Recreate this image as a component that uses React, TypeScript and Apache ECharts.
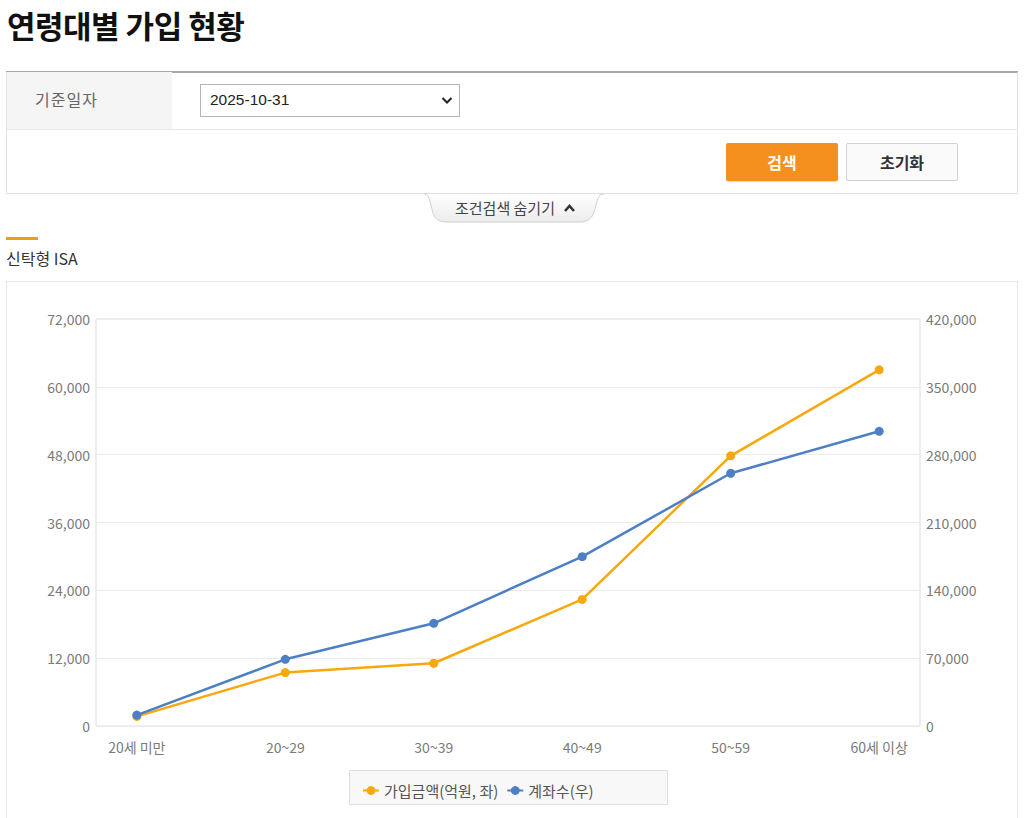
import React, { useEffect, useRef } from "react";
import * as echarts from "echarts";

const categories = ["20세 미만", "20~29", "30~39", "40~49", "50~59", "60세 이상"];
const amountValues = [1700, 9450, 11100, 22400, 47800, 63000];
const accountValues = [11300, 68800, 106000, 174700, 260800, 304100];
const leftTicks = { min: 0, max: 72000, interval: 12000 };
const rightTicks = { min: 0, max: 420000, interval: 70000 };
const seriesNames = ["가입금액(억원, 좌)", "계좌수(우)"];

const FONT = '"Noto Sans CJK KR", "Noto Sans", sans-serif';

function Chart() {
  const ref = useRef<HTMLDivElement>(null);
  useEffect(() => {
    if (!ref.current) return;
    const chart = echarts.init(ref.current, undefined, { renderer: "svg" });
    const idx = categories.map((_, i) => i);
    const labelStyle = { color: "#7a7a7a", fontSize: 14, fontFamily: FONT };
    chart.setOption({
      animation: false,
      textStyle: { fontFamily: FONT },
      grid: {
        left: 90,
        right: 100,
        top: 38,
        bottom: 92,
        show: true,
        borderColor: "#dcdcdc",
        borderWidth: 1,
      },
      graphic: [
        {
          type: "rect",
          left: 343,
          top: 489,
          shape: { width: 318, height: 34 },
          style: { fill: "#f8f8f8", stroke: "#dddddd", lineWidth: 1 },
          z: -1,
        },
      ],
      legend: {
        left: 351,
        top: 497,
        itemWidth: 16,
        itemHeight: 11,
        itemGap: 8,
        textStyle: { color: "#555", fontSize: 15, fontFamily: FONT },
        data: seriesNames,
      },
      xAxis: {
        type: "value",
        min: -0.275,
        max: 5.275,
        splitLine: { show: false },
        axisLine: { show: false },
        axisTick: { show: false },
        axisLabel: {
          customValues: idx,
          formatter: (v: number) => categories[Math.round(v)] ?? "",
          margin: 14,
          ...labelStyle,
        },
      },
      yAxis: [
        {
          type: "value",
          ...leftTicks,
          axisLine: { show: false },
          axisTick: { show: false },
          splitLine: { lineStyle: { color: "#ececec" } },
          axisLabel: {
            margin: 6,
            ...labelStyle,
            formatter: (v: number) => v.toLocaleString("en-US"),
          },
        },
        {
          type: "value",
          ...rightTicks,
          position: "right",
          axisLine: { show: false },
          axisTick: { show: false },
          splitLine: { show: false },
          axisLabel: {
            margin: 6,
            ...labelStyle,
            formatter: (v: number) => v.toLocaleString("en-US"),
          },
        },
      ],
      series: [
        {
          name: seriesNames[0],
          type: "line",
          yAxisIndex: 0,
          data: amountValues.map((v, i) => [i, v]),
          symbol: "circle",
          symbolSize: 9,
          lineStyle: { width: 2.5, color: "#f7a80d" },
          itemStyle: { color: "#f7a80d" },
        },
        {
          name: seriesNames[1],
          type: "line",
          yAxisIndex: 1,
          data: accountValues.map((v, i) => [i, v]),
          symbol: "circle",
          symbolSize: 9,
          lineStyle: { width: 2.5, color: "#4d7fc4" },
          itemStyle: { color: "#4d7fc4" },
        },
      ],
    });
    return () => chart.dispose();
  }, []);
  return <div ref={ref} style={{ width: 1014, height: 537 }} />;
}

export default function App() {
  const abs = (s: React.CSSProperties): React.CSSProperties => ({ position: "absolute", ...s });
  return (
    <div
      style={{
        position: "absolute",
        left: 0,
        top: 0,
        width: 1024,
        height: 818,
        overflow: "hidden",
        background: "#fff",
        fontFamily: FONT,
      }}
    >
      <div style={abs({ left: 7, top: 1, fontSize: 31, fontWeight: 700, color: "#111", letterSpacing: -0.5, lineHeight: "48px" })}>
        연령대별 가입 현황
      </div>

      {/* search table */}
      <div style={abs({ left: 6, top: 71, width: 1012, height: 2, background: "#a9a9a9" })} />
      <div style={abs({ left: 6, top: 72, width: 166, height: 57, background: "#f5f5f5" })} />
      <div style={abs({ left: 6, top: 72, width: 1, height: 122, background: "#e3e3e3" })} />
      <div style={abs({ left: 1017, top: 72, width: 1, height: 122, background: "#e3e3e3" })} />
      <div style={abs({ left: 6, top: 129, width: 1012, height: 1, background: "#e9e9e9" })} />
      <div style={abs({ left: 6, top: 193, width: 1012, height: 1, background: "#e0e0e0" })} />
      <div style={abs({ left: 35, top: 88, fontSize: 16, color: "#666", lineHeight: "22px", letterSpacing: 1 })}>기준일자</div>
      <div
        style={abs({
          left: 200,
          top: 84,
          width: 258,
          height: 31,
          border: "1px solid #b5b5b5",
          background: "#fff",
        })}
      >
        <div style={abs({ left: 9, top: 4, fontSize: 15.5, color: "#222", lineHeight: "22px", fontFamily: "Arial, 'Liberation Sans', sans-serif" })}>
          2025-10-31
        </div>
        <svg style={abs({ left: 240, top: 11 })} width="12" height="9" viewBox="0 0 12 9">
          <polyline points="1.5,2 6,6.5 10.5,2" fill="none" stroke="#222" strokeWidth="2" />
        </svg>
      </div>
      <div
        style={abs({
          left: 726,
          top: 143,
          width: 112,
          height: 38,
          background: "#f5901e",
          borderRadius: 2,
          boxShadow: "0 1px 1px rgba(0,0,0,0.15)",
          color: "#fff",
          fontWeight: 700,
          fontSize: 16,
          textAlign: "center",
          lineHeight: "38px",
        })}
      >
        검색
      </div>
      <div
        style={abs({
          left: 846,
          top: 143,
          width: 110,
          height: 36,
          background: "#fafafa",
          border: "1px solid #d2d2d2",
          borderRadius: 2,
          color: "#333",
          fontWeight: 700,
          fontSize: 16,
          textAlign: "center",
          lineHeight: "36px",
        })}
      >
        초기화
      </div>

      {/* tab */}
      <svg style={abs({ left: 420, top: 193 })} width="186" height="32" viewBox="0 0 186 32">
        <defs>
          <linearGradient id="tabg" x1="0" y1="0" x2="0" y2="1">
            <stop offset="0" stopColor="#ffffff" />
            <stop offset="1" stopColor="#ececec" />
          </linearGradient>
        </defs>
        <path
          d="M4,1 C8,1 9,4 11,12 C13,22 15,29 26,29 L160,29 C171,29 174,22 176,12 C178,4 179,1 184,1"
          fill="url(#tabg)"
          stroke="#cfcfcf"
          strokeWidth="1"
        />
      </svg>
      <div style={abs({ left: 455, top: 198, fontSize: 15, color: "#444", lineHeight: "20px" })}>조건검색 숨기기</div>
      <svg style={abs({ left: 563, top: 203 })} width="13" height="10" viewBox="0 0 13 10">
        <polyline points="2,8 6.5,3 11,8" fill="none" stroke="#333" strokeWidth="2.6" />
      </svg>

      {/* section header */}
      <div style={abs({ left: 6, top: 237, width: 32, height: 3, background: "#f39a1e" })} />
      <div style={abs({ left: 6, top: 247, fontSize: 16, color: "#333", lineHeight: "22px", letterSpacing: 0 })}>
        신탁형 ISA
      </div>

      {/* chart box */}
      <div
        style={abs({
          left: 6,
          top: 281,
          width: 1012,
          height: 540,
          border: "1px solid #e6e6e6",
          boxSizing: "border-box",
        })}
      />
      <div style={abs({ left: 6, top: 281 })}>
        <Chart />
      </div>
    </div>
  );
}
